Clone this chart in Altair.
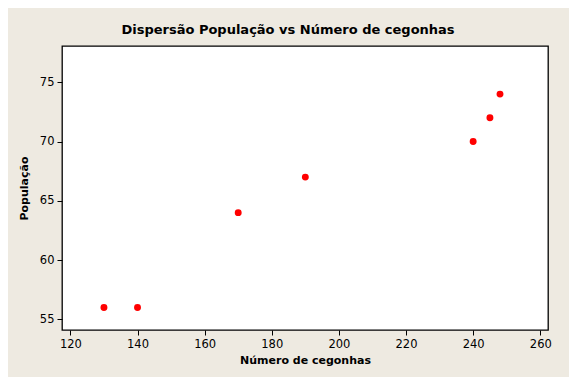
import altair as alt
import pandas as pd

# Data
cegonhas = [130, 140, 170, 190, 240, 245, 248]
populacao = [56, 56, 64, 67, 70, 72, 74]

x_ticks = [120, 140, 160, 180, 200, 220, 240, 260]
y_ticks = [55, 60, 65, 70, 75]

df = pd.DataFrame({"Número de cegonhas": cegonhas, "População": populacao})

BG = "#EEEAE1"
FONT = "DejaVu Sans"

chart = (
    alt.Chart(df)
    .mark_circle(color="#FF0000", opacity=1, size=48)
    .encode(
        x=alt.X(
            "Número de cegonhas:Q",
            scale=alt.Scale(domain=[117.5, 262.3], nice=False, zero=False),
            axis=alt.Axis(values=x_ticks, title="Número de cegonhas"),
        ),
        y=alt.Y(
            "População:Q",
            scale=alt.Scale(domain=[54.1, 78.06], nice=False, zero=False),
            axis=alt.Axis(values=y_ticks, title="População"),
        ),
    )
    .properties(
        width=486,
        height=284,
        title=alt.TitleParams(
            "Dispersão População vs Número de cegonhas",
            anchor="middle",
            dx=-17,
            offset=9,
            fontSize=13,
            fontWeight="bold",
            font=FONT,
            color="#000000",
        ),
        autosize=alt.AutoSizeParams(type="none"),
        padding={"left": 54, "top": 38, "right": 21, "bottom": 47},
        background=BG,
    )
    .configure_view(stroke="#000000", strokeWidth=1.3, fill="#FFFFFF")
    .configure_axis(
        domain=False,
        grid=False,
        tickColor="#000000",
        tickSize=5,
        tickWidth=1,
        labelFont=FONT,
        labelFontSize=11.5,
        labelColor="#000000",
        labelPadding=3,
        titleFont=FONT,
        titleFontSize=11,
        titleFontWeight="bold",
        titleColor="#000000",
    )
    .configure_axisX(titlePadding=5)
    .configure_axisY(titlePadding=10)
)

chart.save("out.html", embed_options={"renderer": "svg", "actions": False})
